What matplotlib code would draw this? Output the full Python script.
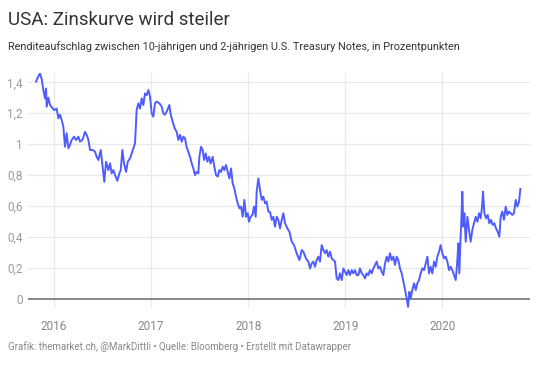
import matplotlib
matplotlib.use("Agg")
import matplotlib.pyplot as plt

plt.rcParams["font.family"] = ["Roboto", "DejaVu Sans"]

# Spread 10y - 2y US Treasuries (time in decimal years)
years = [
    2015.815, 2015.828, 2015.856, 2015.873, 2015.890, 2015.907, 2015.918, 2015.924,
    2015.942, 2015.959, 2015.976, 2016.000, 2016.027, 2016.045, 2016.062, 2016.079,
    2016.096, 2016.113, 2016.130, 2016.148, 2016.165, 2016.182, 2016.206, 2016.227,
    2016.251, 2016.268, 2016.295, 2016.319, 2016.336, 2016.354, 2016.371, 2016.398,
    2016.422, 2016.439, 2016.457, 2016.481, 2016.501, 2016.518, 2016.536, 2016.560,
    2016.577, 2016.594, 2016.611, 2016.628, 2016.652, 2016.673, 2016.687, 2016.704,
    2016.721, 2016.742, 2016.759, 2016.783, 2016.800, 2016.817, 2016.834, 2016.851,
    2016.869, 2016.886, 2016.903, 2016.920, 2016.937, 2016.954, 2016.972, 2016.989,
    2017.006, 2017.023, 2017.040, 2017.057, 2017.085, 2017.109, 2017.126, 2017.143,
    2017.167, 2017.188, 2017.202, 2017.222, 2017.243, 2017.263, 2017.280, 2017.298,
    2017.315, 2017.332, 2017.349, 2017.366, 2017.383, 2017.401, 2017.418, 2017.435,
    2017.452, 2017.469, 2017.486, 2017.497, 2017.514, 2017.531, 2017.545, 2017.562,
    2017.579, 2017.596, 2017.613, 2017.634, 2017.651, 2017.668, 2017.686, 2017.703,
    2017.720, 2017.737, 2017.754, 2017.771, 2017.789, 2017.806, 2017.823, 2017.840,
    2017.857, 2017.874, 2017.892, 2017.909, 2017.926, 2017.943, 2017.960, 2017.977,
    2017.995, 2018.008, 2018.025, 2018.043, 2018.060, 2018.077, 2018.087, 2018.104,
    2018.122, 2018.139, 2018.156, 2018.173, 2018.190, 2018.207, 2018.225, 2018.242,
    2018.259, 2018.276, 2018.293, 2018.310, 2018.328, 2018.345, 2018.362, 2018.379,
    2018.403, 2018.424, 2018.448, 2018.472, 2018.499, 2018.527, 2018.551, 2018.568,
    2018.595, 2018.619, 2018.637, 2018.654, 2018.671, 2018.688, 2018.705, 2018.722,
    2018.739, 2018.757, 2018.774, 2018.791, 2018.808, 2018.825, 2018.842, 2018.860,
    2018.877, 2018.894, 2018.911, 2018.928, 2018.945, 2018.963, 2018.980, 2018.997,
    2019.014, 2019.031, 2019.048, 2019.066, 2019.083, 2019.100, 2019.117, 2019.134,
    2019.151, 2019.169, 2019.186, 2019.203, 2019.220, 2019.237, 2019.254, 2019.272,
    2019.289, 2019.306, 2019.323, 2019.340, 2019.357, 2019.375, 2019.392, 2019.409,
    2019.426, 2019.443, 2019.460, 2019.478, 2019.495, 2019.512, 2019.529, 2019.546,
    2019.563, 2019.581, 2019.598, 2019.615, 2019.632, 2019.646, 2019.660, 2019.673,
    2019.690, 2019.708, 2019.725, 2019.742, 2019.759, 2019.776, 2019.793, 2019.811,
    2019.828, 2019.845, 2019.862, 2019.879, 2019.896, 2019.914, 2019.931, 2019.948,
    2019.965, 2019.982, 2019.999, 2020.017, 2020.034, 2020.051, 2020.068, 2020.085,
    2020.102, 2020.120, 2020.137, 2020.154, 2020.164, 2020.174, 2020.185, 2020.195,
    2020.205, 2020.216, 2020.226, 2020.240, 2020.257, 2020.274, 2020.291, 2020.308,
    2020.325, 2020.343, 2020.360, 2020.377, 2020.394, 2020.408, 2020.418, 2020.432,
    2020.449, 2020.466, 2020.483, 2020.501, 2020.518, 2020.535, 2020.552, 2020.569,
    2020.586, 2020.600, 2020.617, 2020.634, 2020.652, 2020.669, 2020.686, 2020.703,
    2020.720, 2020.737, 2020.755, 2020.772, 2020.789, 2020.803,
]
spread = [
    1.404, 1.425, 1.458, 1.420, 1.350, 1.296, 1.360, 1.242,
    1.300, 1.253, 1.240, 1.220, 1.230, 1.167, 1.190, 1.156,
    1.113, 0.983, 1.070, 0.973, 0.995, 1.027, 1.048, 1.027,
    1.048, 1.016, 1.030, 1.080, 1.060, 1.027, 0.962, 0.962,
    0.951, 0.918, 0.897, 0.962, 0.854, 0.757, 0.886, 0.832,
    0.875, 0.811, 0.832, 0.800, 0.763, 0.811, 0.832, 0.962,
    0.875, 0.820, 0.886, 0.908, 0.940, 0.973, 1.005, 1.220,
    1.264, 1.230, 1.296, 1.253, 1.328, 1.317, 1.350, 1.307,
    1.199, 1.177, 1.264, 1.275, 1.264, 1.242, 1.199, 1.190,
    1.220, 1.253, 1.190, 1.145, 1.102, 1.080, 1.027, 1.060,
    1.016, 1.048, 1.038, 0.979, 0.951, 0.918, 0.875, 0.843,
    0.800, 0.820, 0.811, 0.918, 0.983, 0.962, 0.897, 0.940,
    0.886, 0.918, 0.875, 0.918, 0.854, 0.800, 0.790, 0.832,
    0.820, 0.854, 0.832, 0.865, 0.820, 0.778, 0.843, 0.746,
    0.714, 0.660, 0.617, 0.585, 0.596, 0.530, 0.639, 0.530,
    0.553, 0.498, 0.530, 0.542, 0.596, 0.530, 0.692, 0.778,
    0.703, 0.639, 0.660, 0.617, 0.628, 0.564, 0.560, 0.510,
    0.530, 0.466, 0.530, 0.510, 0.455, 0.510, 0.553, 0.488,
    0.455, 0.434, 0.369, 0.347, 0.294, 0.250, 0.315, 0.304,
    0.261, 0.240, 0.196, 0.229, 0.240, 0.207, 0.250, 0.272,
    0.240, 0.347, 0.315, 0.294, 0.315, 0.272, 0.304, 0.261,
    0.250, 0.240, 0.132, 0.121, 0.164, 0.121, 0.196, 0.175,
    0.153, 0.185, 0.153, 0.185, 0.164, 0.185, 0.153, 0.153,
    0.196, 0.164, 0.153, 0.132, 0.164, 0.153, 0.185, 0.164,
    0.196, 0.218, 0.240, 0.196, 0.207, 0.175, 0.153, 0.229,
    0.272, 0.240, 0.294, 0.250, 0.272, 0.218, 0.272, 0.250,
    0.196, 0.164, 0.110, 0.056, 0.003, -0.052, 0.045, 0.003,
    0.056, 0.100, 0.056, 0.100, 0.121, 0.164, 0.196, 0.185,
    0.229, 0.272, 0.164, 0.207, 0.164, 0.240, 0.207, 0.272,
    0.304, 0.347, 0.294, 0.261, 0.272, 0.240, 0.185, 0.207,
    0.185, 0.153, 0.121, 0.250, 0.358, 0.164, 0.358, 0.510,
    0.692, 0.466, 0.553, 0.369, 0.530, 0.445, 0.369, 0.445,
    0.488, 0.530, 0.498, 0.553, 0.520, 0.596, 0.692, 0.553,
    0.520, 0.542, 0.488, 0.510, 0.477, 0.488, 0.455, 0.434,
    0.401, 0.530, 0.564, 0.510, 0.596, 0.542, 0.564, 0.553,
    0.542, 0.553, 0.639, 0.596, 0.628, 0.710,
]

year_ticks = [2016, 2017, 2018, 2019, 2020]
y_ticks = [0, 0.2, 0.4, 0.6, 0.8, 1.0, 1.2, 1.4]
y_labels = ["0", "0,2", "0,4", "0,6", "0,8", "1", "1,2", "1,4"]

fig = plt.figure(figsize=(5.4, 3.66), dpi=100)
ax = fig.add_axes([28 / 540, (366 - 308) / 366, 502 / 540, 235 / 366])

ax.plot(years, spread, color="#4f5cff", lw=1.4, zorder=3)
ax.axhline(0, color="#777777", lw=1.2, zorder=2)

ax.set_xlim(2015.732, 2020.902)
ax.set_ylim(-0.06, 1.46)
ax.set_xticks(year_ticks)
ax.set_xticklabels([str(y) for y in year_ticks])
ax.set_yticks(y_ticks)
ax.set_yticklabels(y_labels)
ax.grid(True, color="#e9e9e9", lw=0.9, zorder=0)
ax.set_axisbelow(True)
for s in ax.spines.values():
    s.set_visible(False)
ax.tick_params(length=0, colors="#9a9a9a", labelsize=8.5)
ax.tick_params(axis="x", pad=9, colors="#888888")
ax.tick_params(axis="y", pad=4)

fig.text(8 / 540, 1 - 20 / 366, "USA: Zinskurve wird steiler", fontsize=13.5,
         color="#333333", va="center", ha="left")
fig.text(8 / 540, 1 - 47 / 366,
         "Renditeaufschlag zwischen 10-jährigen und 2-jährigen U.S. Treasury Notes, in Prozentpunkten",
         fontsize=7.8, color="#333333", va="center", ha="left")
fig.text(8 / 540, 1 - 347 / 366,
         "Grafik: themarket.ch, @MarkDittli • Quelle: Bloomberg • Erstellt mit Datawrapper",
         fontsize=7, color="#888888", va="center", ha="left")

fig.savefig("out.png", dpi=100, facecolor="white")
